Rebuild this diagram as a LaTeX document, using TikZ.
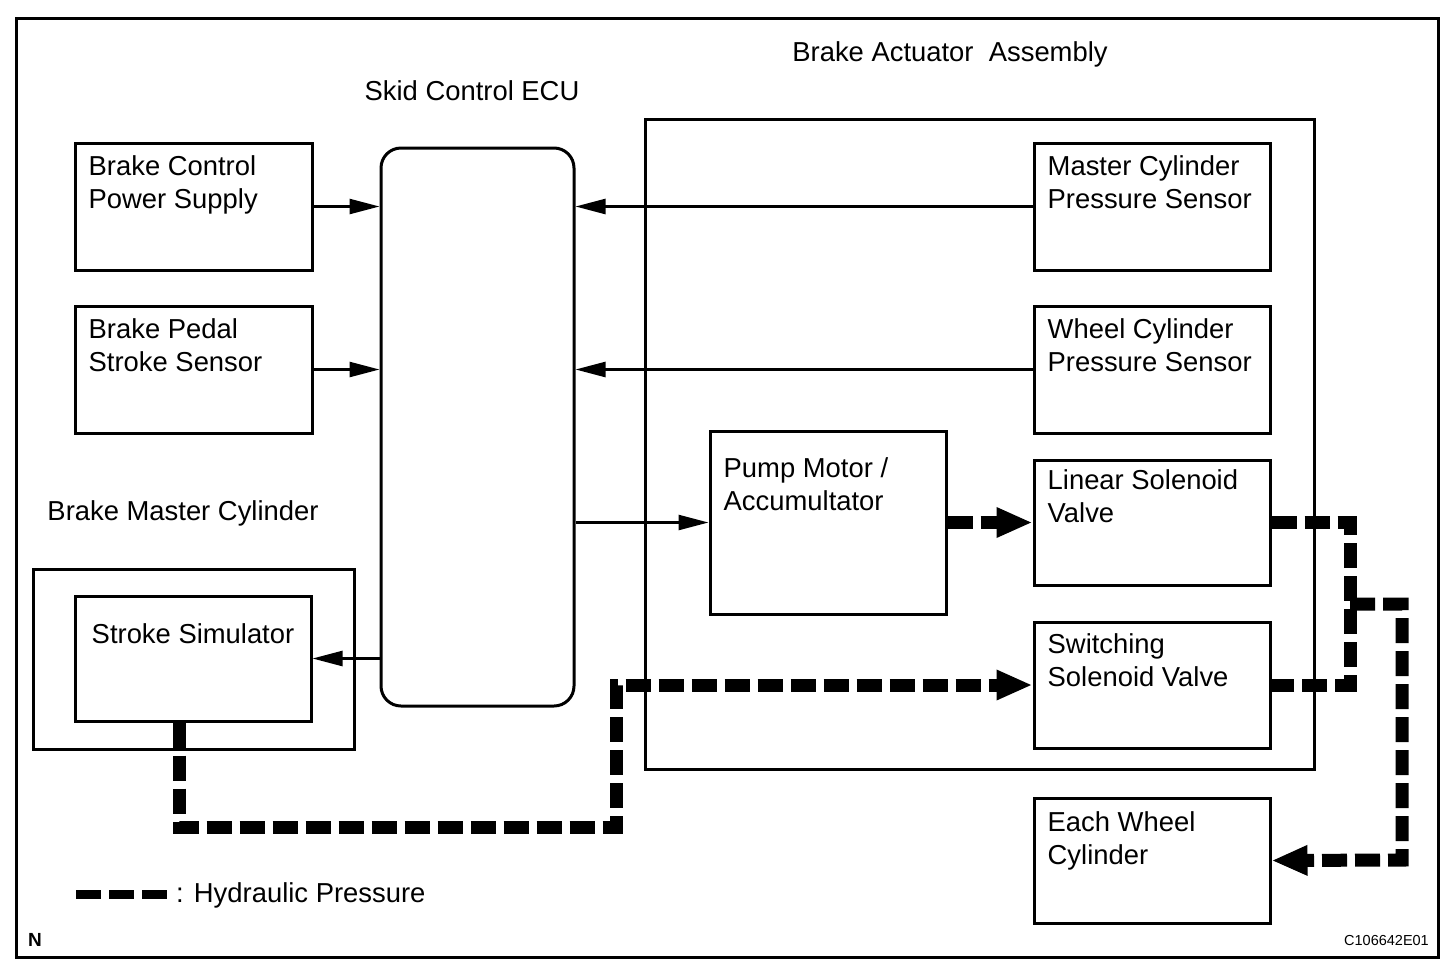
\documentclass[tikz,border=0pt]{standalone}
\usepackage{fontspec}
\setmainfont{Liberation Sans}
\usetikzlibrary{arrows.meta,positioning}

\tikzset{
  blk/.style={draw, line width=3pt, minimum width=236pt, minimum height=126pt, inner sep=0pt},
  txt/.style={anchor=north west, inner sep=0pt, align=left, font=\fontsize{27.4}{33}\selectfont},
  ttl/.style={inner sep=0pt, font=\fontsize{27.4}{33}\selectfont},
  sig/.style={line width=2.5pt, -{Triangle[length=30pt,width=15pt]}},
  hyd/.style={line width=13pt, dash pattern=on 25pt off 8pt},
  hydarrow/.style={hyd, -{Triangle[length=36pt,width=28pt]}},
}

\begin{document}
\begin{tikzpicture}[x=1pt, y=-1pt]
        \def\Lx{193.5} % left column
        \def\Rx{1152 } % right column
        \def\Ty{14   } % text offset from box top
        \def\Tx{15   } % text offset from box left
        \useasboundingbox (0,0) rectangle (1456,970);
        \draw[line width=3pt] (16,18) rectangle (1438,957); % frame

        % Left column
        \node[blk, minimum width=237pt, minimum height=127pt] (bcps) at (\Lx,206.5) {};
        \node[blk, minimum width=237pt, minimum height=127pt] (bpss) at (\Lx,369.5) {};
        \node[blk, minimum width=321pt, minimum height=180pt] (bmc)  at (\Lx,659) {};
        \node[blk, minimum height=125pt] (ssim) at (193,658.5) {};

        % Skid control ECU
        \node[draw, line width=3pt, rounded corners=20pt, minimum width=193pt, minimum height=558pt] (ecu) at (477.5,427) {};

        % Brake actuator assembly
        \node[draw, line width=3pt, minimum width=669pt, minimum height=650pt] (baa) at (979.5,444) {};
        \node[blk, minimum height=127pt] (mcps) at (\Rx,206.5) {};
        \node[blk, minimum height=127pt] (wcps) at (\Rx,369.5) {};
        \node[blk, minimum height=183pt] (pump) at (828,522.5) {};
        \node[blk, minimum height=125pt] (lsv)  at (\Rx,522.5) {};
        \node[blk]                       (ssv)  at (\Rx,685) {};
        \node[blk, minimum height=125pt] (ewc)  at (\Rx,860.5) {};

        % Box texts
        \node[txt] (bcpst) at ([xshift=\Tx pt, yshift=-\Ty pt]bcps.north west) {Brake Control\\Power Supply};
        \node[txt] (bpsst) at ([xshift=\Tx pt, yshift=-\Ty pt]bpss.north west) {Brake Pedal\\Stroke Sensor};
        \node[txt, anchor=north] (ssimt) at ([yshift=-29pt]ssim.north) {Stroke Simulator};
        \node[txt] (mcpst) at ([xshift=\Tx pt, yshift=-\Ty pt]mcps.north west) {Master Cylinder\\Pressure Sensor};
        \node[txt] (wcpst) at ([xshift=\Tx pt, yshift=-\Ty pt]wcps.north west) {Wheel Cylinder\\Pressure Sensor};
        \node[txt] (pumpt) at ([xshift=\Tx pt, yshift=-28pt]pump.north west) {Pump Motor /\\Accumultator};
        \node[txt] (lsvt)  at ([xshift=\Tx pt, yshift=-11pt]lsv.north west) {Linear Solenoid\\Valve};
        \node[txt] (ssvt)  at ([xshift=\Tx pt, yshift=-13pt]ssv.north west) {Switching\\Solenoid Valve};
        \node[txt] (ewct)  at ([xshift=\Tx pt, yshift=-15pt]ewc.north west) {Each Wheel\\Cylinder};

        % Labels
        \node[ttl] (baal) at (950,54)  {Brake Actuator \ Assembly};
        \node[ttl] (ecul) at (472,91)  {Skid Control ECU};
        \node[ttl] (bmcl) at (183,513) {Brake Master Cylinder};

        % Signal lines
        \draw[sig] (bcps.east) -- (bcps.east -| ecu.west);
        \draw[sig] (bpss.east) -- (bpss.east -| ecu.west);
        \draw[sig] (mcps.west) -- (mcps.west -| ecu.east);
        \draw[sig] (wcps.west) -- (wcps.west -| ecu.east);
        \draw[sig] (pump.west -| ecu.east) -- (pump.west);
        \draw[sig] (ssim.east -| ecu.west) -- (ssim.east);

        % Hydraulic lines
        \coordinate (hb) at (616,827);  % bottom turn
        \coordinate (jn) at (1350,604); % junction
        \coordinate (rt) at (1402,860); % right turn
        \draw[hydarrow] (pump.east) -- (lsv.west);
        \draw[hydarrow] ([xshift=-14pt]ssim.south) |- (hb) |- (ssv.west);
        \draw[hyd] (lsv.east) -| (jn) |- (ssv.east);
        \draw[hydarrow] (jn) -| (rt) -- (ewc.east);

        % Legend
        \coordinate (lg1) at (76,894);
        \coordinate (lg2) at (167,894);
        \draw[hyd, line width=9pt] (lg1) -- (lg2);
        \node[ttl, anchor=west] (legt) at (176,895) {: Hydraulic Pressure};
        \node[font=\bfseries\fontsize{19}{22}\selectfont] (nmark) at (35,940) {N};
        \node[anchor=east, inner sep=0pt, font=\fontsize{14.5}{17}\selectfont] (code) at (1429,940) {C106642E01};
\end{tikzpicture}
\end{document}
